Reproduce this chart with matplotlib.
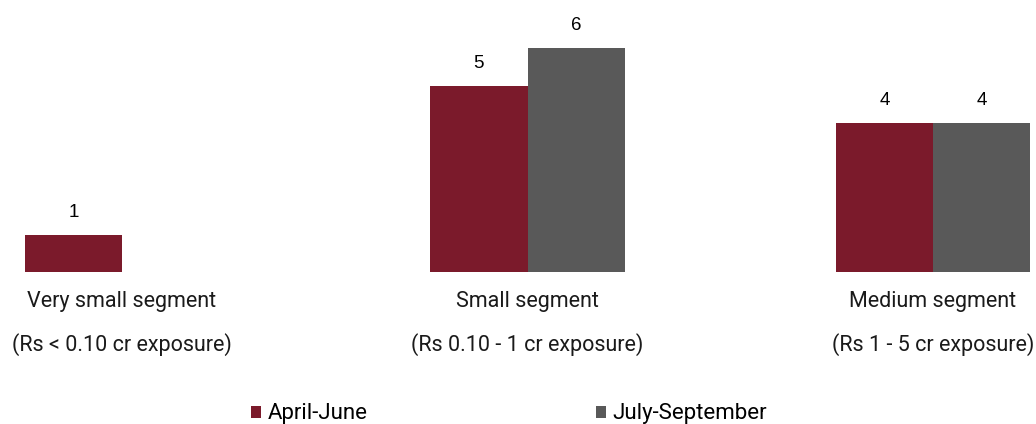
import matplotlib
matplotlib.use("Agg")
import matplotlib.pyplot as plt
from matplotlib.patches import Patch

categories = ["Very small segment", "Small segment", "Medium segment"]
subtitles = ["(Rs < 0.10 cr exposure)", "(Rs 0.10 - 1 cr exposure)", "(Rs 1 - 5 cr exposure)"]
series_names = ["April-June", "July-September"]
april_june = [1, 5, 4]
july_sept = [None, 6, 4]

colors = ["#7B1A2B", "#595959"]

fig = plt.figure(figsize=(10.36, 4.24), dpi=100)
ax = fig.add_axes([0, 1 - 272 / 424, 1, 272 / 424])

w = 0.24
x = list(range(len(categories)))
for i, vals in enumerate([april_june, july_sept]):
    for xi, v in zip(x, vals):
        if v is None:
            continue
        pos = xi - w / 2 if i == 0 else xi + w / 2
        ax.bar(pos, v, width=w, color=colors[i], edgecolor="none")
        ax.annotate(str(v), (pos, v), xytext=(0, 10), textcoords="offset points",
                    ha="center", va="bottom", fontsize=13.5, family="Liberation Sans",
                    color="#000000")

ax.set_xlim(-122 / 405.5, (1036 - 122) / 405.5)
ax.set_ylim(0, 272 / 37.3)
ax.axis("off")

for xi, c, s in zip(x, categories, subtitles):
    ax.annotate(c, (xi, 0), xytext=(0, -21), textcoords="offset points",
                ha="center", va="center", fontsize=15.5, family="Roboto", color="#1a1a1a")
    ax.annotate(s, (xi, 0), xytext=(0, -52), textcoords="offset points",
                ha="center", va="center", fontsize=15.5, family="Roboto", color="#1a1a1a")

handles = [Patch(facecolor=c, edgecolor="none") for c in colors]
leg = fig.legend(handles, series_names, loc="center", bbox_to_anchor=(509 / 1036, 1 - 414 / 424),
                 ncol=2, frameon=False, prop={"family": "Roboto", "size": 16},
                 handlelength=0.45, handleheight=0.45, handletextpad=0.3, columnspacing=10.3)

fig.savefig("out.png", dpi=100)
